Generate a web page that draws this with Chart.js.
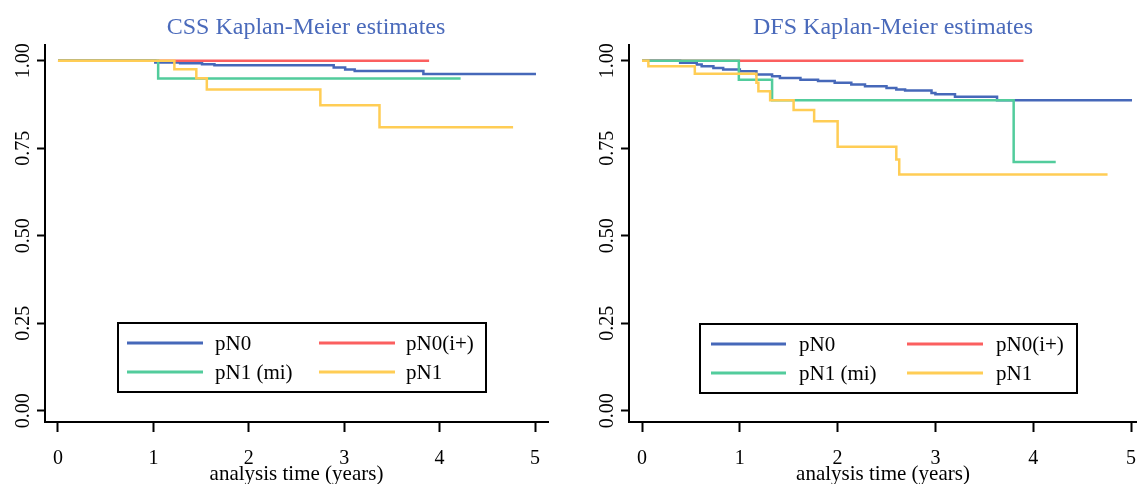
<!DOCTYPE html>
<html><head><meta charset="utf-8">
<script src="https://cdn.jsdelivr.net/npm/chart.js@4.4.0/dist/chart.umd.min.js"></script>
<style>
html,body{margin:0;padding:0;background:#fff;width:1137px;height:484px;overflow:hidden;}
canvas{position:absolute;top:0;}
#cssChart{left:0;}
#dfsChart{left:585px;}
</style></head><body>
<canvas id="cssChart" width="560" height="484" style="width:560px;height:484px"></canvas>
<canvas id="dfsChart" width="552" height="484" style="width:552px;height:484px"></canvas>
<script>
// ---- data ----
const groupLabels = ['pN0', 'pN0(i+)', 'pN1 (mi)', 'pN1'];
const chartTitles = ['CSS Kaplan-Meier estimates', 'DFS Kaplan-Meier estimates'];
const xAxisTitle = 'analysis time (years)';
const xTickValues = [0, 1, 2, 3, 4, 5];
const yTickValues = [0, 0.25, 0.5, 0.75, 1];
const yTickLabels = ['0.00', '0.25', '0.50', '0.75', '1.00'];

// CSS
const cssPN0Time = [0, 1.02, 1.28, 1.51, 1.64, 2.89, 3.01, 3.11, 3.83, 5.01];
const cssPN0Surv = [1, 0.995, 0.993, 0.990, 0.987, 0.981, 0.975, 0.971, 0.962, 0.962];
const cssPN0iTime = [0, 3.89];
const cssPN0iSurv = [1, 1];
const cssPN1miTime = [0, 1.05, 4.22];
const cssPN1miSurv = [1, 0.949, 0.949];
const cssPN1Time = [0, 1.22, 1.45, 1.56, 2.75, 3.37, 4.77];
const cssPN1Surv = [1, 0.976, 0.950, 0.918, 0.873, 0.810, 0.810];

// DFS
const dfsPN0Time = [0, 0.39, 0.56, 0.61, 0.73, 0.83, 1.00, 1.17, 1.33, 1.41, 1.62, 1.80, 1.97, 2.14, 2.28, 2.50, 2.60, 2.69, 2.96, 3.00, 3.20, 3.63, 5.01];
const dfsPN0Surv = [1, 0.994, 0.989, 0.984, 0.979, 0.975, 0.970, 0.961, 0.956, 0.951, 0.946, 0.942, 0.937, 0.932, 0.927, 0.922, 0.918, 0.915, 0.908, 0.904, 0.897, 0.887, 0.887];
const dfsPN0iTime = [0, 3.90];
const dfsPN0iSurv = [1, 1];
const dfsPN1miTime = [0, 0.99, 1.33, 3.80, 4.23];
const dfsPN1miSurv = [1, 0.946, 0.887, 0.711, 0.711];
const dfsPN1Time = [0, 0.065, 0.54, 1.17, 1.19, 1.31, 1.55, 1.76, 2.00, 2.60, 2.63, 4.76];
const dfsPN1Surv = [1, 0.984, 0.963, 0.937, 0.913, 0.887, 0.859, 0.827, 0.754, 0.718, 0.675, 0.675];

// ---- styles ----
const groupColors = ['#4668b9', '#fb5f5f', '#52cc9c', '#ffcd55'];
const titleColor = '#4a6abb';
const FONT = '"Liberation Serif", "Times New Roman", serif';

function pts(t, s) { return t.map((v, i) => ({ x: v, y: s[i] })); }

function makeDatasets(series) {
  return series.map((d, i) => ({
    label: groupLabels[i],
    data: pts(d[0], d[1]),
    borderColor: groupColors[i],
    backgroundColor: groupColors[i],
    borderWidth: 2.5,
    pointRadius: 0,
    stepped: 'before',
    fill: false,
    order: 4 - i
  }));
}

const decorPlugin = {
  id: 'decor',
  afterDraw(chart, args, o) {
    const ctx = chart.ctx;
    const ys = chart.scales.y;
    ctx.save();
    // title
    ctx.fillStyle = titleColor;
    ctx.font = '24px ' + FONT;
    ctx.textAlign = 'center';
    ctx.textBaseline = 'alphabetic';
    ctx.fillText(o.title, o.titleX, 34);
    // y tick labels (rotated)
    ctx.fillStyle = '#000';
    ctx.font = '20px ' + FONT;
    yTickValues.forEach((v, i) => {
      const py = ys.getPixelForValue(v);
      ctx.save();
      ctx.translate(chart.chartArea.left - 16.5, py);
      ctx.rotate(-Math.PI / 2);
      ctx.textAlign = 'center';
      ctx.textBaseline = 'alphabetic';
      ctx.fillText(yTickLabels[i], 0, 0);
      ctx.restore();
    });
    // legend
    const L = o.legend;
    ctx.fillStyle = '#fff';
    ctx.fillRect(L.x, L.y, L.w, L.h);
    ctx.strokeStyle = '#000';
    ctx.lineWidth = 2;
    ctx.strokeRect(L.x, L.y, L.w, L.h);
    ctx.font = '21px ' + FONT;
    ctx.textAlign = 'left';
    ctx.textBaseline = 'middle';
    chart.data.datasets.forEach((ds, i) => {
      const col = i % 2, row = Math.floor(i / 2);
      const ry = L.y + L.rows[row];
      const c = L.cols[col];
      ctx.strokeStyle = ds.borderColor;
      ctx.lineWidth = 3;
      ctx.beginPath();
      ctx.moveTo(L.x + c[0], ry);
      ctx.lineTo(L.x + c[1], ry);
      ctx.stroke();
      ctx.fillStyle = '#000';
      ctx.fillText(ds.label, L.x + c[2], ry + 1);
    });
    ctx.restore();
  }
};

function makeChart(id, series, opts) {
  return new Chart(document.getElementById(id), {
    type: 'line',
    data: { datasets: makeDatasets(series) },
    plugins: [decorPlugin],
    options: {
      responsive: false,
      animation: false,
      events: [],
      layout: { padding: { top: 45, right: opts.padRight, left: 0, bottom: 0 } },
      plugins: {
        legend: { display: false },
        title: { display: false },
        tooltip: { enabled: false },
        decor: { title: opts.title, titleX: opts.titleX, legend: opts.legend }
      },
      scales: {
        x: {
          type: 'linear',
          min: opts.xMin, max: opts.xMax,
          afterBuildTicks: s => { s.ticks = xTickValues.map(v => ({ value: v })); },
          afterFit: s => { s.height = 62; s.paddingLeft = 0; s.paddingRight = 0; },
          border: { display: true, color: '#000', width: 2 },
          grid: { display: true, drawOnChartArea: false, drawTicks: true, tickLength: 10, tickColor: '#000', tickWidth: 2, color: '#000' },
          ticks: { color: '#000', font: { family: FONT, size: 20 }, padding: 15, maxRotation: 0, minRotation: 0, callback: v => String(v) },
          title: { display: true, text: xAxisTitle, color: '#000', font: { family: FONT, size: 21 }, padding: { top: 0, bottom: -3 } }
        },
        y: {
          type: 'linear',
          min: -0.032, max: 1.045,
          afterBuildTicks: s => { s.ticks = yTickValues.map(v => ({ value: v })); },
          afterFit: s => { s.width = opts.yWidth; s.paddingTop = 0; s.paddingBottom = 0; },
          border: { display: true, color: '#000', width: 2 },
          grid: { display: true, drawOnChartArea: false, drawTicks: true, tickLength: 8, tickColor: '#000', tickWidth: 2, color: '#000' },
          ticks: { display: false }
        }
      }
    }
  });
}

makeChart('cssChart', [
  [cssPN0Time, cssPN0Surv],
  [cssPN0iTime, cssPN0iSurv],
  [cssPN1miTime, cssPN1miSurv],
  [cssPN1Time, cssPN1Surv]
], {
  title: chartTitles[0], titleX: 306, padRight: 12, yWidth: 45,
  xMin: -0.136, xMax: 5.136,
  legend: { x: 118, y: 323, w: 368, h: 69, rows: [20, 49], cols: [[9, 85, 97], [201, 277, 288]] }
});

makeChart('dfsChart', [
  [dfsPN0Time, dfsPN0Surv],
  [dfsPN0iTime, dfsPN0iSurv],
  [dfsPN1miTime, dfsPN1miSurv],
  [dfsPN1Time, dfsPN1Surv]
], {
  title: chartTitles[1], titleX: 893 - 585, padRight: 0, yWidth: 44,
  xMin: -0.133, xMax: 5.061,
  legend: { x: 700 - 585, y: 324, w: 377, h: 69, rows: [20, 49], cols: [[11, 86, 99], [207, 283, 296]] }
});
</script>
</body></html>
